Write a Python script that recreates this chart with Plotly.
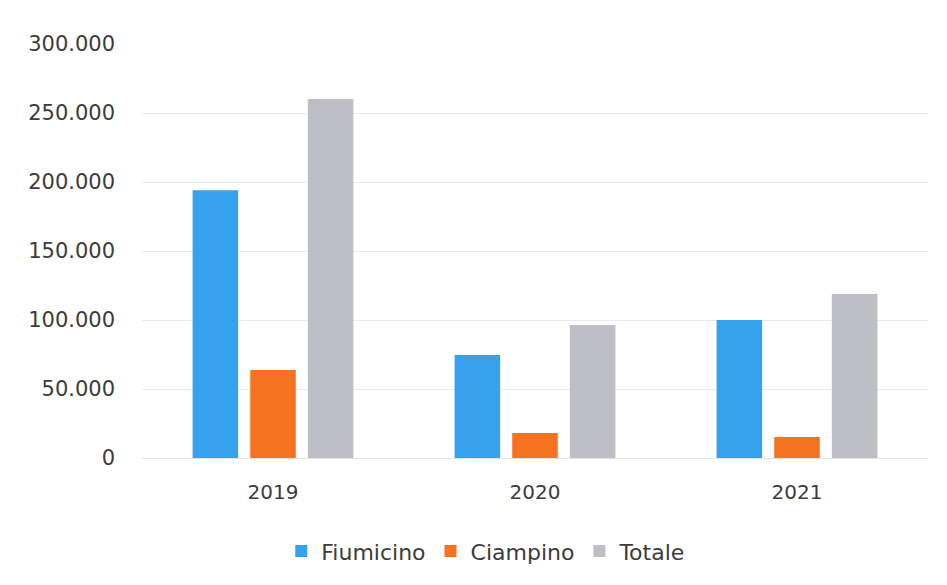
import plotly.graph_objects as go

# Passenger figures by airport and year
anni = ["2019", "2020", "2021"]
fiumicino = [194000, 74600, 100000]
ciampino = [63800, 18100, 15200]
totale = [260100, 96400, 118800]

y_ticks = [0, 50000, 100000, 150000, 200000, 250000, 300000]

serie = [
    ("Fiumicino", fiumicino, "#36A2EE"),
    ("Ciampino", ciampino, "#F47220"),
    ("Totale", totale, "#BEBEC6"),
]

fig = go.Figure()
for nome, valori, colore in serie:
    fig.add_trace(go.Bar(name=nome, x=anni, y=valori, marker_color=colore,
                         marker_line_width=0))

fig.update_layout(
    width=947, height=585,
    margin=dict(l=142, r=19, t=44, b=127),
    paper_bgcolor="white", plot_bgcolor="white",
    separators=",.",
    barmode="group", bargap=0.34, bargroupgap=0.21,
    font=dict(family="DejaVu Sans, sans-serif", color="#3C3C3C"),
    legend=dict(orientation="h", x=0.438, xanchor="center", y=-0.225, yanchor="middle",
                font=dict(size=22, color="#3C3C3C"), itemwidth=30,
                traceorder="normal"),
    showlegend=True,
)
fig.update_yaxes(range=[0, 300000], tickvals=y_ticks, tickformat=",d",
                 showgrid=True, gridcolor="#EBEBEB", gridwidth=1,
                 zeroline=True, zerolinecolor="#E3E3E3", zerolinewidth=1,
                 tickfont=dict(size=21, color="#3C3C3C"), ticklen=0, ticks="",
                 ticklabelstandoff=26)
fig.update_xaxes(showline=False, tickfont=dict(size=20, color="#3C3C3C"),
                 ticks="", ticklabelstandoff=20)

fig.write_html("out.html")
